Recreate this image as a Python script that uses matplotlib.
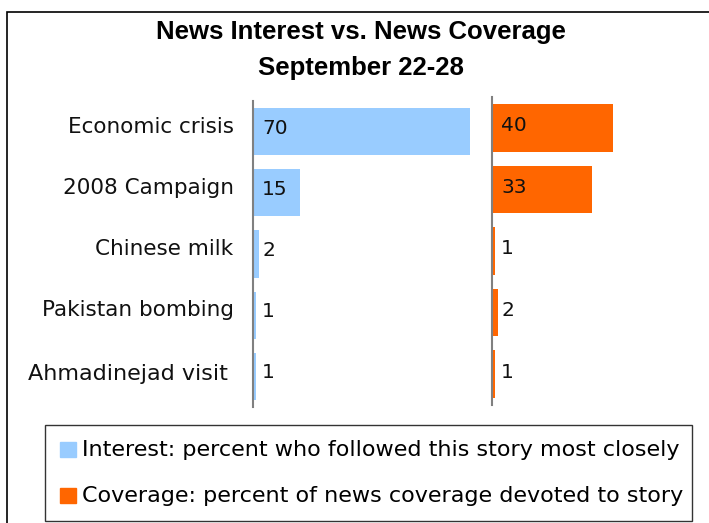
import matplotlib
matplotlib.use("Agg")
import matplotlib.pyplot as plt
from matplotlib.patches import Rectangle

categories = ["Economic crisis", "2008 Campaign", "Chinese milk", "Pakistan bombing", "Ahmadinejad visit"]
interest = [70, 15, 2, 1, 1]
coverage = [40, 33, 1, 2, 1]
title_lines = ["News Interest vs. News Coverage", "September 22-28"]
legend_labels = ["Interest: percent who followed this story most closely",
                 "Coverage: percent of news coverage devoted to story"]

blue = "#99CCFF"
orange = "#FF6600"
W, H = 709, 523
fig = plt.figure(figsize=(W / 100, H / 100), dpi=100)

def fx(px):
    return px / W

def fy(py):
    return 1 - py / H

# outer frame
fig.patches.append(Rectangle((fx(7), fy(530)), fx(720) - fx(7), fy(12) - fy(530),
                             transform=fig.transFigure, fill=False, edgecolor="black", lw=1.2))

fig.text(fx(361), fy(32), title_lines[0], ha="center", va="center", fontsize=18.5,
         fontweight="bold", family="Liberation Sans")
fig.text(fx(361), fy(68), title_lines[1], ha="center", va="center", fontsize=18.5,
         fontweight="bold", family="Liberation Sans")

ypos = list(range(len(categories)))

# left axes (interest)
axL = fig.add_axes([fx(253), fy(407), (75 * 3.1) / W, (407 - 101) / H])
axL.barh(ypos, interest, height=0.77, color=blue)
axL.set_xlim(0, 75)
axL.set_ylim(4.5, -0.5)
# right axes (coverage)
axR = fig.add_axes([fx(492), fy(405), (45 * 3.03) / W, (405 - 97) / H])
axR.barh(ypos, coverage, height=0.77, color=orange)
axR.set_xlim(0, 45)
axR.set_ylim(4.5, -0.5)

for ax, vals, dy in ((axL, interest, 2.5), (axR, coverage, 1.5)):
    for s in ("top", "right", "bottom"):
        ax.spines[s].set_visible(False)
    ax.spines["left"].set_color("#808080")
    ax.spines["left"].set_linewidth(1.5)
    ax.set_xticks([])
    ax.set_yticks([])
    ax.patch.set_alpha(0)
    for y, v in zip(ypos, vals):
        ax.annotate(str(v), (0, y), xytext=(6.5, dy), textcoords="offset points",
                    ha="left", va="center", fontsize=14.5, color="#111111")

# category labels
for i, (y, c) in enumerate(zip(ypos, categories)):
    last = i == len(categories) - 1
    ax_off = -18 if last else -14
    axL.annotate(c, (0, y), xycoords=("axes fraction", "data"),
                 xytext=(ax_off, 3.5 if not last else 2), textcoords="offset points",
                 ha="right", va="center", fontsize=16 if last else 15.5, color="#111111")

# legend box
fig.patches.append(Rectangle((fx(45), fy(521)), fx(692) - fx(45), fy(425) - fy(521),
                             transform=fig.transFigure, fill=False, edgecolor="#333333", lw=1))
for i, (lab, col) in enumerate(zip(legend_labels, [blue, orange])):
    yc = 449.5 + i * 46
    fig.patches.append(Rectangle((fx(60), fy(yc + 7.5)), fx(16), fy(0) - fy(15),
                                 transform=fig.transFigure, color=col))
    fig.text(fx(82), fy(yc), lab, ha="left", va="center", fontsize=16)

fig.savefig("out.png", dpi=100)
